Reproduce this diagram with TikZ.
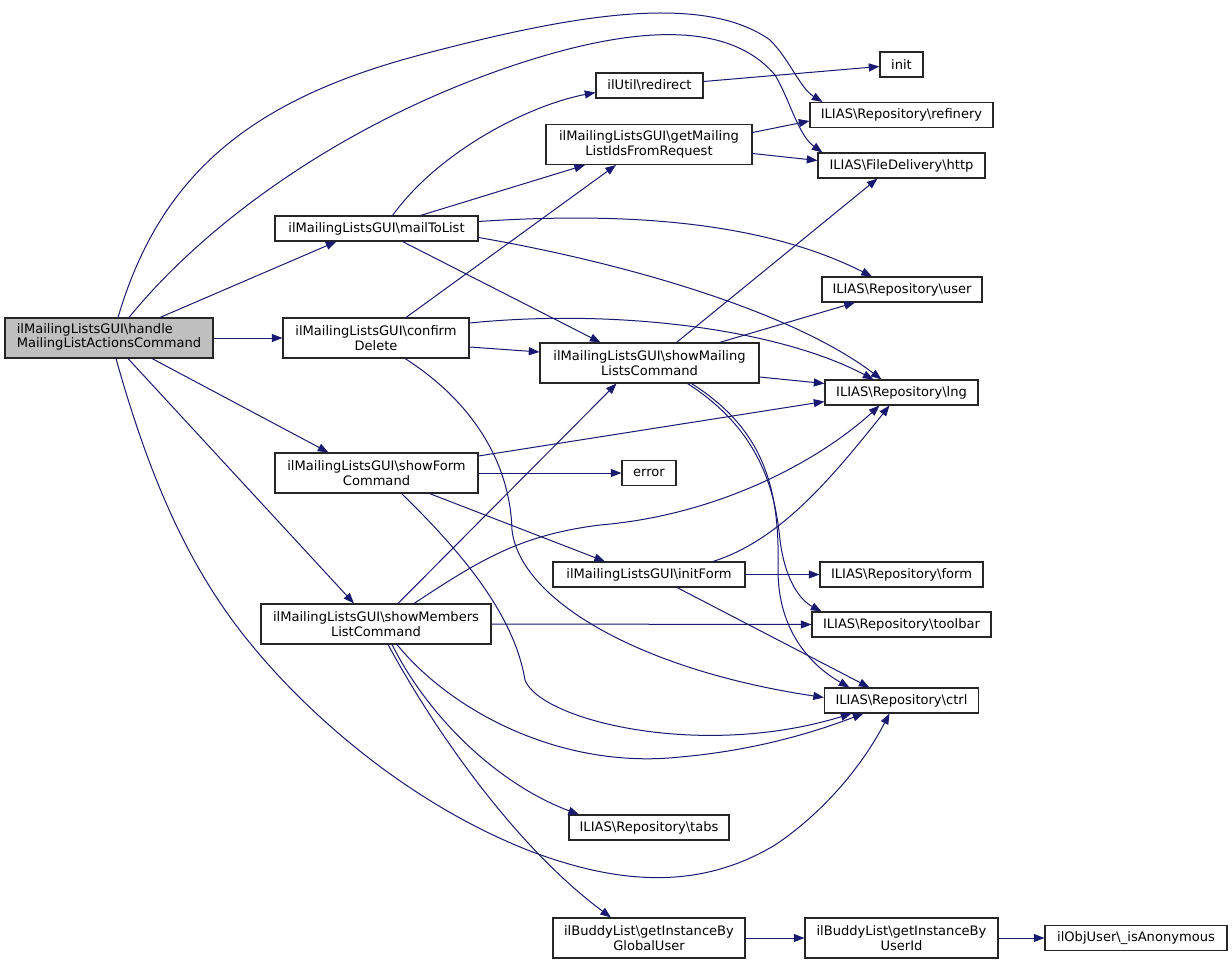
\documentclass[tikz,border=0pt]{standalone}
\usepackage{fontspec}
\setmainfont{DejaVu Sans}
\usetikzlibrary{arrows.meta,calc}
\newcommand{\bsl}{\textbackslash{}}
\definecolor{edgecol}{HTML}{191970}
\definecolor{grayfill}{HTML}{BFBFBF}
\begin{document}
\begin{tikzpicture}[x=0.75pt,y=-0.75pt,
  box/.style={draw=black!85,line width=0.8pt,fill=white,inner sep=0pt,align=center,
    font=\fontsize{9.8pt}{10.9pt}\selectfont},
  one/.style={minimum height=18.75pt},
  two/.style={minimum height=30pt},
  edge/.style={draw=edgecol,line width=0.75pt,-{Triangle[length=8pt,width=6pt]}}]
\useasboundingbox (0,0) rectangle (1232,963);
\fill[white] (0,0) rectangle (1232,963);
% column 0
\node[box,two,fill=grayfill,minimum width=156pt] (handle) at (109,338) {\renewcommand{\arraystretch}{0.92}\begin{tabular}{@{}l@{}}ilMailingListsGUI\bsl handle\\MailingListActionsCommand\end{tabular}};
% column 1
\node[box,one,minimum width=152.25pt] (mail) at (376.5,228.5) {ilMailingListsGUI\bsl mailToList};
\node[box,two,minimum width=139.5pt] (confirm) at (376,338) {ilMailingListsGUI\bsl confirm\\Delete};
\node[box,two,minimum width=152.25pt] (showform) at (376.5,473) {ilMailingListsGUI\bsl showForm\\Command};
\node[box,two,minimum width=172.5pt] (members) at (376,624) {ilMailingListsGUI\bsl showMembers\\ListCommand};
% column 2
\node[box,one,minimum width=80.25pt] (redirect) at (649.5,85.5) {ilUtil\bsl redirect};
\node[box,two,minimum width=154.5pt] (getmail) at (649,144.5) {ilMailingListsGUI\bsl getMailing\\ListIdsFromRequest};
\node[box,two,minimum width=164.25pt] (showmail) at (649.5,363) {ilMailingListsGUI\bsl showMailing\\ListsCommand};
\node[box,one,minimum width=40.5pt] (error) at (649,473) {error};
\node[box,one,minimum width=144pt] (initform) at (649,574.5) {ilMailingListsGUI\bsl initForm};
\node[box,one,minimum width=120pt] (tabs) at (649,827.5) {ILIAS\bsl Repository\bsl tabs};
\node[box,two,minimum width=144pt] (budglobal) at (649,938) {ilBuddyList\bsl getInstanceBy\\GlobalUser};
% column 3
\node[box,one,minimum width=32.25pt] (init) at (901.5,64.5) {init};
\node[box,one,minimum width=137.25pt] (refinery) at (901.5,115) {ILIAS\bsl Repository\bsl refinery};
\node[box,one,minimum width=125.25pt] (http) at (901.5,165.5) {ILIAS\bsl FileDelivery\bsl http};
\node[box,one,minimum width=120pt] (user) at (902,289.5) {ILIAS\bsl Repository\bsl user};
\node[box,one,minimum width=114.75pt] (lng) at (901.5,392.5) {ILIAS\bsl Repository\bsl lng};
\node[box,one,minimum width=122.25pt] (form) at (901.5,574.5) {ILIAS\bsl Repository\bsl form};
\node[box,one,minimum width=134.25pt] (toolbar) at (901.5,624.5) {ILIAS\bsl Repository\bsl toolbar};
\node[box,one,minimum width=115.5pt] (ctrl) at (901.5,700.5) {ILIAS\bsl Repository\bsl ctrl};
\node[box,two,minimum width=144.75pt] (buduser) at (901.5,938) {ilBuddyList\bsl getInstanceBy\\UserId};
% column 4
\node[box,one,minimum width=136.5pt] (isanon) at (1136,938) {ilObjUser\bsl\_isAnonymous};

% edges from handle
\draw[edge] ($(handle.north)+(9,0)$) .. controls (160,175) and (250,100) .. (420,55) .. controls (560,18) and (700,-10) .. (770,40) .. controls (790,60) and (800,88) .. ($(refinery.north west)+(13,0)$);
\draw[edge] ($(handle.north)+(20,0)$) .. controls (200,230) and (330,130) .. (500,70) .. controls (600,35) and (720,10) .. (775,75) .. controls (790,100) and (798,135) .. ($(http.north west)+(5,0)$);
\draw[edge] ($(handle.north)+(51,0)$) -- ($(mail.south)+(-40,0)$);
\draw[edge] (handle.east) -- (confirm.west);
\draw[edge] ($(handle.south)+(43,0)$) -- ($(showform.north)+(-48,0)$);
\draw[edge] ($(handle.south)+(19,0)$) -- ($(members.north)+(-22,0)$);
\draw[edge] ($(handle.south)+(7,0)$) .. controls (150,480) and (190,570) .. (250,643) .. controls (300,705) and (400,800) .. (530,851) .. controls (620,885) and (700,890) .. (775,845) .. controls (820,815) and (860,770) .. ($(ctrl.south)+(-12,0)$);
% edges from mailToList
\draw[edge] ($(mail.north)+(16,0)$) .. controls (440,150) and (530,105) .. ($(redirect.west)+(0,7)$);
\draw[edge] ($(mail.north)+(44,0)$) -- ($(getmail.south)+(-64,0)$);
\draw[edge] ($(mail.south)+(26,0)$) -- ($(showmail.north)+(-49,0)$);
\draw[edge] ($(mail.east)+(0,-7)$) .. controls (620,212) and (760,220) .. ($(user.north)+(-30,0)$);
\draw[edge] ($(mail.east)+(0,9)$) .. controls (620,262) and (790,310) .. ($(lng.north)+(-20,0)$);
% edges from confirmDelete
\draw[edge] ($(confirm.north)+(30,0)$) -- ($(getmail.south)+(-33,0)$);
\draw[edge] ($(confirm.east)+(0,9)$) -- ($(showmail.west)+(0,-11)$);
\draw[edge] ($(confirm.east)+(0,-15)$) .. controls (620,308) and (780,330) .. ($(lng.north)+(-28,0)$);
\draw[edge] ($(confirm.south)+(29,0)$) .. controls (470,400) and (510,460) .. (512,530) .. controls (520,600) and (640,670) .. ($(ctrl.west)+(0,-3)$);
% edges from showForm
\draw[edge] ($(showform.east)+(0,-17)$) -- ($(lng.west)+(0,9)$);
\draw[edge] (showform.east) -- (error.west);
\draw[edge] ($(showform.south)+(53,0)$) -- ($(initform.north)+(-44,0)$);
\draw[edge] ($(showform.south)+(25,0)$) .. controls (470,560) and (515,620) .. (525,680) .. controls (540,720) and (700,760) .. ($(ctrl.south)+(-50,0)$);
% edges from showMembers
\draw[edge] ($(members.north)+(22,0)$) -- ($(showmail.south)+(-33,0)$);
\draw[edge] ($(members.north)+(38,0)$) .. controls (480,560) and (520,535) .. (600,525) .. controls (720,515) and (820,460) .. ($(lng.south)+(-22,0)$);
\draw[edge] (members.east) -- (toolbar.west);
\draw[edge] ($(members.south)+(21,0)$) .. controls (450,710) and (560,770) .. (680,757) .. controls (760,750) and (820,730) .. ($(ctrl.south)+(-38,0)$);
\draw[edge] ($(members.south)+(16,0)$) .. controls (430,720) and (500,785) .. ($(tabs.north)+(-70,0)$);
\draw[edge] ($(members.south)+(12,0)$) .. controls (440,740) and (520,850) .. ($(budglobal.north)+(-38,0)$);
% edges from showMailingListsCommand
\draw[edge] ($(showmail.north)+(27,0)$) -- ($(http.south)+(-24,0)$);
\draw[edge] ($(showmail.north)+(70,0)$) -- ($(user.south)+(-47,0)$);
\draw[edge] ($(showmail.east)+(0,14)$) -- ($(lng.west)+(0,-9)$);
\draw[edge] ($(showmail.south)+(38,0)$) .. controls (760,430) and (775,490) .. (780,540) .. controls (785,580) and (800,600) .. ($(toolbar.north west)+(10,0)$);
\draw[edge] ($(showmail.south)+(42,0)$) .. controls (765,430) and (780,490) .. (778,570) .. controls (778,630) and (810,665) .. ($(ctrl.north)+(-52,0)$);
% edges from getMailingListIdsFromRequest
\draw[edge] ($(getmail.east)+(0,-12)$) -- ($(refinery.west)+(0,6)$);
\draw[edge] ($(getmail.east)+(0,9)$) -- ($(http.west)+(0,-5)$);
% redirect
\draw[edge] ($(redirect.east)+(0,-4)$) -- ($(init.west)+(0,2)$);
% initForm
\draw[edge] ($(initform.north)+(64,0)$) .. controls (780,540) and (830,480) .. ($(lng.south)+(-12,0)$);
\draw[edge] (initform.east) -- (form.west);
\draw[edge] ($(initform.south)+(28,0)$) -- ($(ctrl.north)+(-32,0)$);
% buddy list chain
\draw[edge] (budglobal.east) -- (buduser.west);
\draw[edge] (buduser.east) -- (isanon.west);
\end{tikzpicture}
\end{document}
